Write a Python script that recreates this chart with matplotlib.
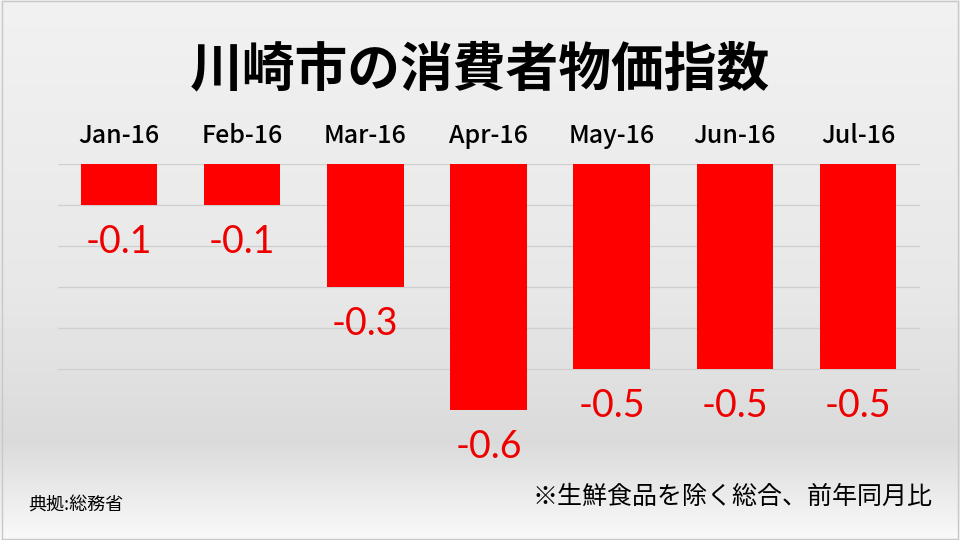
import matplotlib.pyplot as plt
import numpy as np

months = ["Jan-16", "Feb-16", "Mar-16", "Apr-16", "May-16", "Jun-16", "Jul-16"]
values = [-0.1, -0.1, -0.3, -0.6, -0.5, -0.5, -0.5]
grid_levels = [0, -0.1, -0.2, -0.3, -0.4, -0.5]

title = "川崎市の消費者物価指数"
source = "典拠:総務省"
note = "※生鮮食品を除く総合、前年同月比"

jp = ["Noto Sans CJK JP", "DejaVu Sans"]

fig = plt.figure(figsize=(9.6, 5.4), dpi=100)

# background gradient
bg = fig.add_axes([0, 0, 1, 1], zorder=-10)
ys = np.linspace(0, 1, 540)
shade = np.interp(ys, [0, 0.55, 0.82, 1.0], [0.945, 0.905, 0.855, 0.975])
bg.imshow(np.repeat(shade[:, None], 10, axis=1), cmap="gray", vmin=0, vmax=1,
          aspect="auto", extent=[0, 1, 0, 1], origin="upper")
bg.set_xlim(0, 1)
bg.set_ylim(0, 1)
bg.axis("off")
bg.plot([0.002, 0.002, 0.998, 0.998, 0.002], [0.002, 0.998, 0.998, 0.002, 0.002],
        color="#c8c8c8", lw=1)

ax = fig.add_axes([57.5 / 960, 130 / 540, 862 / 960, 246 / 540])
ax.patch.set_alpha(0)
x = np.arange(len(months))
ax.bar(x, values, width=0.62, color="#ff0000", zorder=3)
for g in grid_levels:
    ax.axhline(g, color="#cfcfcf", lw=0.9, zorder=1)
ax.set_xlim(-0.5, len(months) - 0.5)
ax.set_ylim(-0.6, 0)
ax.axis("off")

for i, (m, v) in enumerate(zip(months, values)):
    ax.text(i, 0.068, m, ha="center", va="center", fontsize=18, fontweight="medium",
            family=jp, color="black", clip_on=False)
    ax.text(i, v - 0.09, f"{v:.1f}", ha="center", va="center", fontsize=27,
            family="Lato", color="#ee0000", clip_on=False)

fig.text(0.5, 0.87, title, ha="center", va="center", fontsize=38,
         fontweight="bold", family=jp)
fig.text(28 / 960, 1 - 506 / 540, source, ha="left", va="center", fontsize=13,
         family=jp)
fig.text(932 / 960, 1 - 497 / 540, note, ha="right", va="center", fontsize=18,
         family=jp)

fig.savefig("out.png", dpi=100)
